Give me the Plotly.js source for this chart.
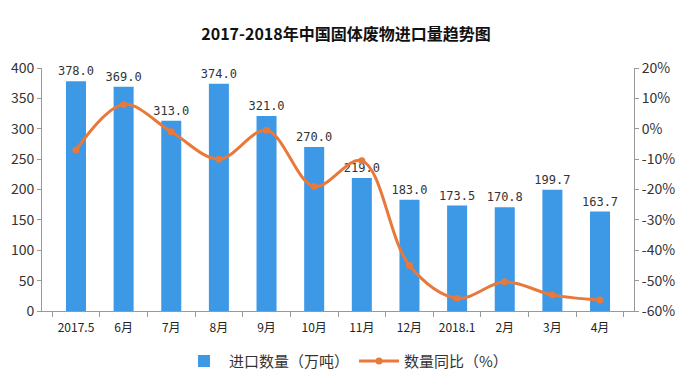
<!DOCTYPE html>
<html><head><meta charset="utf-8">
<script src="https://cdn.plot.ly/plotly-3.0.1.min.js"></script>
<style>html,body{margin:0;padding:0;background:#fff}#c{width:692px;height:383px}</style>
</head><body><div id="c"></div>
<script>
const categories = ['2017.5','6月','7月','8月','9月','10月','11月','12月','2018.1','2月','3月','4月'];
const importVolume = [378.0,369.0,313.0,374.0,321.0,270.0,219.0,183.0,173.5,170.8,199.7,163.7];
const yoyChange = [-7,8,-1,-10,-0.5,-19,-10.5,-45,-55.8,-50.4,-54.7,-56.4];
const leftTicks = [0,50,100,150,200,250,300,350,400];
const rightTicks = [-60,-50,-40,-30,-20,-10,0,10,20];
const rightTickLabels = ['-60%','-50%','-40%','-30%','-20%','-10%','0%','10%','20%'];

const font = "'Noto Sans CJK SC', 'Liberation Sans', sans-serif";
const traces = [
  {type:'bar', x:categories, y:importVolume, name:'进口数量（万吨）',
   marker:{color:'#3d98e6'}, text:importVolume.map(v=>v.toFixed(1)),
   textposition:'outside', constraintext:'none',
   textfont:{size:12,color:'#333',family:"'DejaVu Sans Mono', monospace"},
   cliponaxis:false, hoverinfo:'skip'},
  {type:'scatter', mode:'lines+markers', x:categories, y:yoyChange, yaxis:'y2', name:'数量同比（%）',
   line:{color:'#e8793a', width:3, shape:'spline', smoothing:1}, marker:{color:'#e8793a', size:7}}
];
const layout = {
  width:692, height:383,
  margin:{l:42, r:58, t:68, b:72},
  paper_bgcolor:'#fff', plot_bgcolor:'#fff',
  font:{family:font, size:13, color:'#333'},
  title:{text:'<b>2017-2018年中国固体废物进口量趋势图</b>', x:0.5, xanchor:'center', y:0.925, font:{size:16, color:'#111', family:font}},
  bargap:0.58,
  showlegend:true,
  legend:{orientation:'h', xref:'container', yref:'container', x:0.5, xanchor:'center', y:0.057, yanchor:'middle', font:{size:15, color:'#333'}, itemwidth:40},
  xaxis:{type:'category', automargin:false, showline:true, linecolor:'#999', ticks:'outside', tickson:'boundaries', ticklen:5, tickcolor:'#999', ticklabelstandoff:6, tickfont:{size:12, color:'#222'}, showgrid:false},
  yaxis:{range:[0,400], automargin:false, tickmode:'array', tickvals:leftTicks, showline:true, linecolor:'#999', ticks:'outside', ticklen:4, tickcolor:'#999', showgrid:false, zeroline:false, tickfont:{size:14, color:'#333'}},
  yaxis2:{range:[-60,20], automargin:false, tickmode:'array', tickvals:rightTicks, ticktext:rightTickLabels, overlaying:'y', side:'right', showline:true, linecolor:'#999', ticks:'outside', ticklen:4, tickcolor:'#999', showgrid:false, zeroline:false, tickfont:{size:14, color:'#333'}}
};
Plotly.newPlot('c', traces, layout, {displayModeBar:false, staticPlot:true});
</script></body></html>
